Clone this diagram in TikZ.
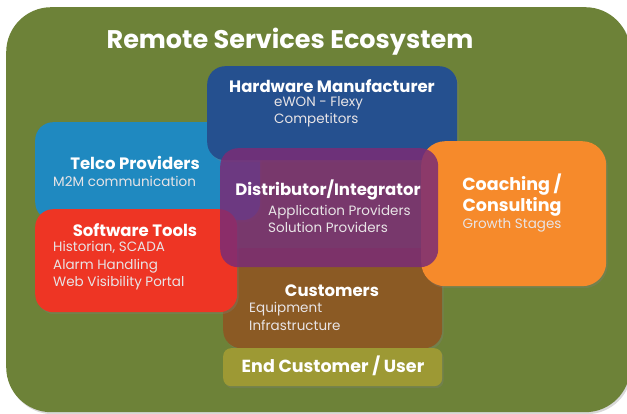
\documentclass[tikz,border=0pt]{standalone}
\usepackage{fontspec}
\setmainfont{Poppins}
\usetikzlibrary{shadows}
\definecolor{ecogreen}{HTML}{6D8238}
\definecolor{hwblue}{HTML}{25508F}
\definecolor{telcoblue}{HTML}{1F89C0}
\definecolor{swred}{HTML}{EE3524}
\definecolor{coachorange}{HTML}{F68A2B}
\definecolor{distpurple}{HTML}{7A2C76}
\definecolor{custbrown}{HTML}{8B5A24}
\definecolor{endolive}{HTML}{A09B33}
\definecolor{subgray}{HTML}{E8E4E6}
\tikzset{
  box/.style={rounded corners=18pt, inner sep=0pt,
              drop shadow={opacity=0.3, shadow xshift=1.5pt, shadow yshift=-2pt}},
  title/.style={text=white, font=\bfseries\fontsize{25.5}{30}\selectfont, inner sep=0pt},
  head/.style={text=white, font=\bfseries\fontsize{16.5}{19}\selectfont, inner sep=0pt},
  bighead/.style={head, font=\bfseries\fontsize{17.5}{20}\selectfont},
  sub/.style={text=subgray, font=\fontsize{13.5}{16}\selectfont, inner sep=0pt,
              anchor=west, text height=10pt, text depth=3pt},
}
\begin{document}
\begin{tikzpicture}[x=1pt, y=-1pt]
    \useasboundingbox (0,0) rectangle (627,414);
    % background
    \node[box, rounded corners=45pt, fill=ecogreen, minimum width=624pt,
          minimum height=405pt, anchor=north west] (eco) at (6,7) {};
    \node[title] (ttl) at (290,42) {Remote Services Ecosystem};
    % boxes, back to front
    \node[box, fill=telcoblue, minimum width=225pt, minimum height=98pt,
          anchor=north west] (telco) at (35,122) {};
    \node[box, fill=hwblue, minimum width=250pt, minimum height=94pt,
          anchor=north west] (hw) at (207,66) {};
    \node[box, fill=custbrown, minimum width=219pt, minimum height=100pt,
          anchor=north west] (cust) at (223,248) {};
    \node[box, fill=swred, minimum width=202pt, minimum height=103pt,
          anchor=north west] (sw) at (35,209) {};
    \node[box, rounded corners=24pt, fill=coachorange, minimum width=185pt,
          minimum height=145pt, anchor=north west] (coach) at (421,141) {};
    \node[rounded corners=18pt, inner sep=0pt, fill=distpurple, fill opacity=0.85,
          minimum width=218pt, minimum height=119pt, anchor=north west] (dist) at (220,148) {};
    \node[box, rounded corners=8pt, fill=endolive, fill opacity=0.95, minimum width=219pt,
          minimum height=38pt, anchor=north west] (endu) at (223,348) {};
    % labels
    \node[head] (hwhead) at (332,86) {Hardware Manufacturer};
    \node[sub] (hwsub1) at (274,103) {eWON - Flexy};
    \node[sub] (hwsub2) at (274,120) {Competitors};
    \node[head] (telcohead) at (135,163) {Telco Providers};
    \node[sub] (telcosub) at (53,183) {M2M communication};
    \node[head] (swhead) at (135,230) {Software Tools};
    \node[sub] (swsub1) at (53,248) {Historian, SCADA};
    \node[sub] (swsub2) at (53,266) {Alarm Handling};
    \node[sub] (swsub3) at (53,283) {Web Visibility Portal};
    \node[head] (disthead) at (328,190) {Distributor/Integrator};
    \node[sub] (distsub1) at (268,212) {Application Providers};
    \node[sub] (distsub2) at (268,229) {Solution Providers};
    \node[bighead] (coachhead1) at (512,185) {Coaching /};
    \node[bighead] (coachhead2) at (512,207) {Consulting};
    \node[sub, anchor=center] (coachsub) at (512,225) {Growth Stages};
    \node[head] (custhead) at (332,291) {Customers};
    \node[sub] (custsub1) at (249,309) {Equipment};
    \node[sub] (custsub2) at (249,327) {Infrastructure};
    \node[bighead] (enduhead) at (333,366) {End Customer / User};
  \end{tikzpicture}
\end{document}
